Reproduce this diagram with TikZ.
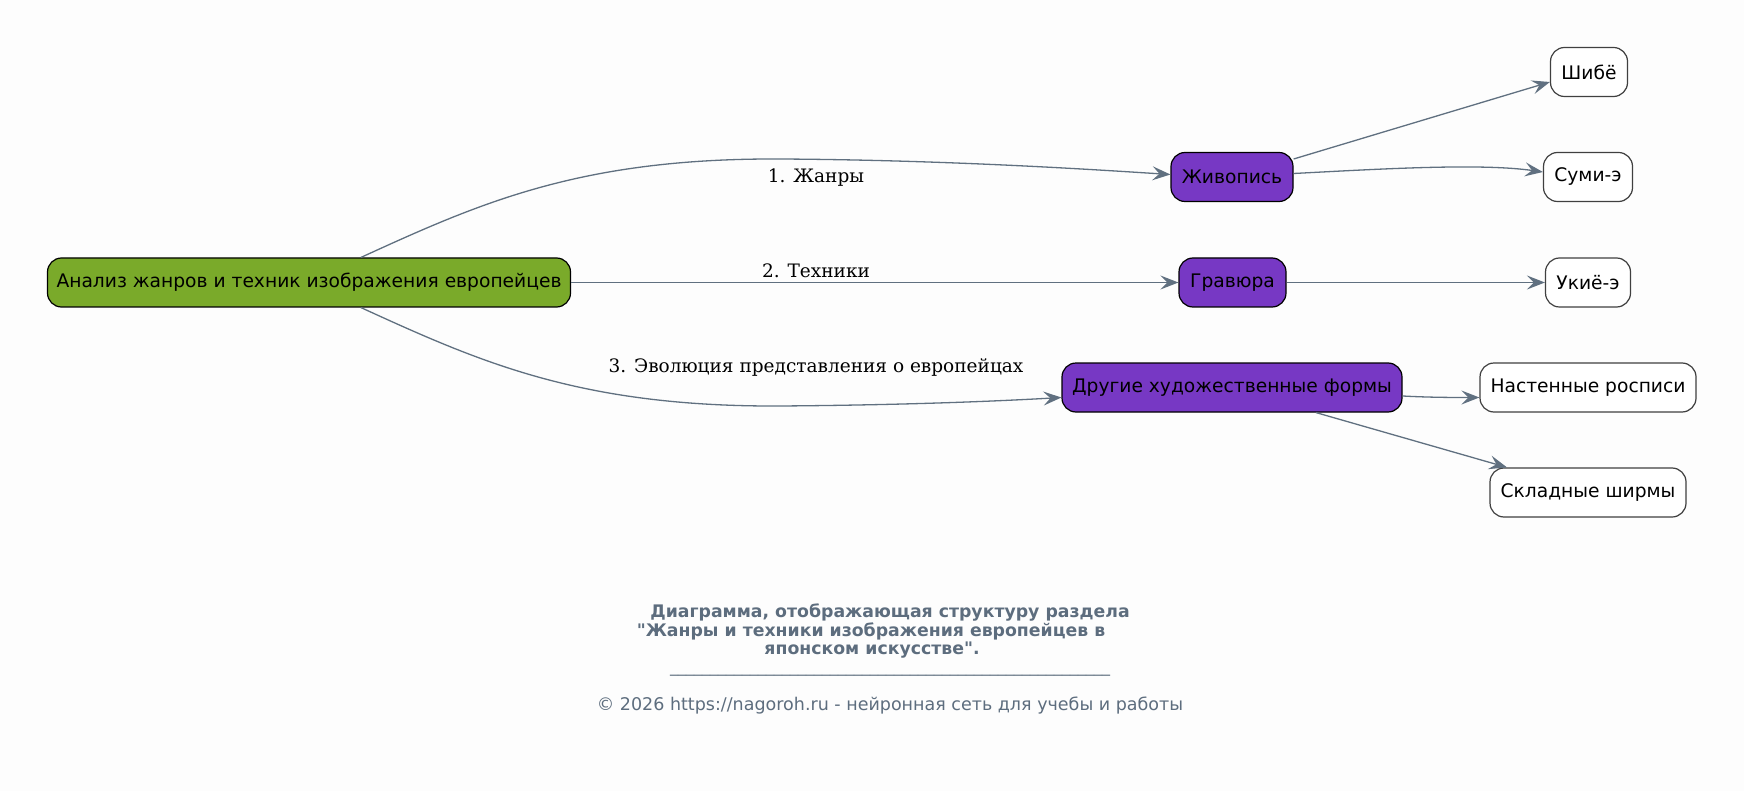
\documentclass[tikz,border=0pt]{standalone}
\usepackage{fontspec}
\setmainfont{DejaVu Sans}[Ligatures=TeXOff]
\newfontfamily\lblfont{DejaVu Serif}[Ligatures=TeXOff]
\usetikzlibrary{arrows.meta}
\definecolor{bg}{HTML}{FDFDFD}
\definecolor{rootgreen}{HTML}{7AAA2A}
\definecolor{purp}{HTML}{7738C4}
\definecolor{edgec}{HTML}{607080}
\definecolor{titlec}{HTML}{5D6D7E}
\begin{document}
\begin{tikzpicture}[x=1pt,y=-1pt,
 box/.style={draw=black, line width=1.2pt, rounded corners=14pt, minimum height=49pt, inner sep=0pt, font=\fontsize{18.67}{22}\selectfont, text=black},
 rootbox/.style={box, fill=rootgreen},
 midbox/.style={box, fill=purp},
 leafbox/.style={box, fill=white, draw=black!75},
 conn/.style={draw=edgec, line width=1.3pt, -{Stealth[length=18pt,width=14pt,inset=7pt]}},
 elabel/.style={font=\lblfont\fontsize{18.5}{22}\selectfont, text=black, anchor=base, inner sep=0pt},
 titletext/.style={font=\bfseries\fontsize{17.3}{19}\selectfont, text=titlec, anchor=base, inner sep=0pt},
 foottext/.style={font=\fontsize{17.5}{19}\selectfont, text=titlec, anchor=base, inner sep=0pt},
 ruletext/.style={font=\fontsize{16}{18}\selectfont, text=titlec, anchor=base, inner sep=0pt},
]
\fill[bg] (0,0) rectangle (1744,791);
\useasboundingbox (0,0) rectangle (1744,791);

\node[rootbox, minimum width=523pt] (root) at (309,282.5) {Анализ жанров и техник изображения европейцев};
\node[midbox, minimum width=122pt] (zhiv) at (1232,177) {Живопись};
\node[midbox, minimum width=107pt] (grav) at (1232.5,282.5) {Гравюра};
\node[midbox, minimum width=340pt] (drug) at (1232,387.5) {Другие художественные формы};
\node[leafbox, minimum width=77pt] (shibe) at (1589,72) {Шибё};
\node[leafbox, minimum width=89pt] (sumi) at (1588,177) {Суми-э};
\node[leafbox, minimum width=85pt] (ukiyo) at (1588,282.5) {Укиё-э};
\node[leafbox, minimum width=216pt] (nast) at (1588,387.5) {Настенные росписи};
\node[leafbox, minimum width=196pt] (sklad) at (1588,492.5) {Складные ширмы};

\draw[conn] ([xshift=52pt]root.north) .. controls (480,203) and (580,158) .. (780,159) .. controls (950,160) and (1100,170) .. ([yshift=2.5pt]zhiv.west);
\draw[conn] (root.east) -- (grav.west);
\draw[conn] ([xshift=52pt]root.south) .. controls (480,362) and (580,407) .. (780,406) .. controls (910,405) and (1000,401) .. ([yshift=-10pt]drug.west);

\draw[conn] ([yshift=18pt]zhiv.east) -- ([yshift=-10pt]shibe.west);
\draw[conn] ([yshift=3.5pt]zhiv.east) .. controls (1380,169) and (1480,163) .. ([yshift=5pt]sumi.west);
\draw[conn] (grav.east) -- (ukiyo.west);
\draw[conn] ([yshift=-8.5pt]drug.east) .. controls (1430,397.5) and (1455,397.5) .. ([yshift=-10pt]nast.west);
\draw[conn] ([xshift=84pt]drug.south) -- ([xshift=-81pt]sklad.north);

\node[elabel] (l1) at (816,183) {1. Жанры};
\node[elabel] (l2) at (816,278) {2. Техники};
\node[elabel] (l3) at (816,372) {3. Эволюция представления о европейцах};

\node[titletext] (t1) at (890,617) {Диаграмма, отображающая структуру раздела};
\node[titletext] (t2) at (871,636) {"Жанры и техники изображения европейцев в};
\node[titletext] (t3) at (872,654) {японском искусстве".};
\node[ruletext] (rule) at (890,672) {\_\_\_\_\_\_\_\_\_\_\_\_\_\_\_\_\_\_\_\_\_\_\_\_\_\_\_\_\_\_\_\_\_\_\_\_\_\_\_\_\_\_\_\_\_\_\_\_\_\_\_\_\_\_\_};
\node[foottext] (foot) at (890,710) {© 2026 https://nagoroh.ru - нейронная сеть для учебы и работы};
\end{tikzpicture}
\end{document}
